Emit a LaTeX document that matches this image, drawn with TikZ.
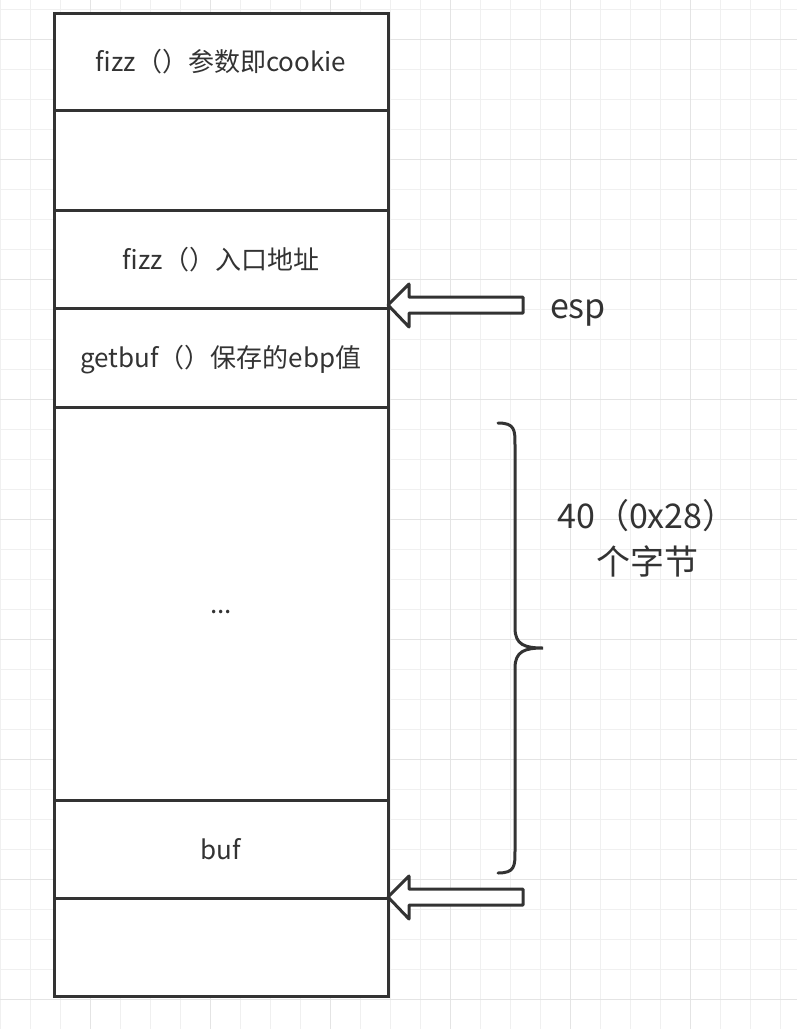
\documentclass[tikz,border=0pt]{standalone}
\usepackage{fontspec}
\setmainfont{Noto Sans CJK SC}
\usetikzlibrary{positioning}

\definecolor{ink}{HTML}{333333}
\definecolor{gridminor}{HTML}{F0F0F0}
\definecolor{gridmajor}{HTML}{E4E4E4}

\tikzset{
  cell/.style={draw=ink, fill=white, line width=3pt, minimum width=334pt,
    outer sep=0pt, inner sep=0pt, text height=26pt, text depth=6pt,
    text=ink, font=\fontsize{26}{31}\selectfont},
  blockarrow/.style={draw=ink, fill=white, line width=3pt, line join=round},
  biglabel/.style={text=ink, font=\fontsize{34}{46}\selectfont, align=center}
}

\begin{document}
\begin{tikzpicture}[x=1pt, y=-1pt]
    \useasboundingbox (0,0) rectangle (797,1029);
    \fill[white] (0,0) rectangle (797,1029);

    % --- background grid ---
    \begin{scope}[line width=1pt]
        \foreach \x in {0.7, 30.7, ..., 790} \draw[gridminor] (\x,0) -- (\x,1029);
        \foreach \y in {9.3, 39.3, ..., 1020} \draw[gridminor] (0,\y) -- (797,\y);
        \foreach \x in {90.7, 210.7, ..., 790} \draw[gridmajor] (\x,0) -- (\x,1029);
        \foreach \y in {39.3, 159.3, ..., 1020} \draw[gridmajor] (0,\y) -- (797,\y);
    \end{scope}

    % --- stack frame cells (top to bottom) ---
    \node[cell, minimum height=97.5pt] (fizzArg) at (221,61.75) {fizz（）参数即cookie};
    \node[cell, minimum height=99.5pt, below=0pt of fizzArg] (pad) {};
    \node[cell, minimum height=98pt, below=0pt of pad] (retAddr) {fizz（）入口地址};
    \node[cell, minimum height=99pt, below=0pt of retAddr] (savedEbp) {getbuf（）保存的ebp值};
    \node[cell, minimum height=393pt, below=0pt of savedEbp] (filler) {...};
    \node[cell, minimum height=98pt, below=0pt of filler] (buf) {buf};
    \node[cell, minimum height=98pt, below=0pt of buf] (below) {};

    % --- pointer arrows ---
    \draw[blockarrow] ([yshift=3pt]retAddr.south east) -- ++(21,-21) -- ++(0,13)
        -- ++(114,0) -- ++(0,16) -- ++(-114,0) -- ++(0,14) -- cycle;
    \draw[blockarrow] ([yshift=1pt]buf.south east) -- ++(21,-21) -- ++(0,13)
        -- ++(114,0) -- ++(0,16) -- ++(-114,0) -- ++(0,14) -- cycle;
    \node[biglabel] (espLabel) at (578,313) {esp};

    % --- brace over the 40 bytes ---
    \draw[ink, line width=3pt, line cap=round]
        (498,423) .. controls (515,423) and (515,430) .. (515,445) -- (515,628)
        .. controls (515,645) and (525,648) .. (543,648)
        .. controls (525,648) and (515,651) .. (515,668) -- (515,851)
        .. controls (515,866) and (515,873) .. (498,873);
    \node[biglabel] (sizeLabel) at (647,538) {40（0x28）\\个字节};
\end{tikzpicture}
\end{document}
